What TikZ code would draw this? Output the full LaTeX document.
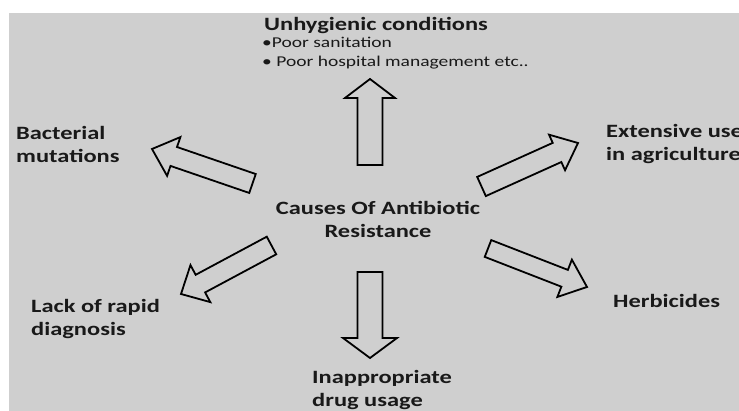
\documentclass[tikz,border=0pt]{standalone}
\usepackage{fontspec}
\setmainfont{Carlito}[FakeStretch=1.3]
\usetikzlibrary{calc}
\definecolor{bggray}{RGB}{207,207,207}
\tikzset{
  blockarrow/.style={draw=black, line width=1.8pt, line join=miter, fill=none},
  bigtext/.style={font=\bfseries\fontsize{18.8}{23}\selectfont, inner sep=0pt, align=left, text=black!90},
  smalltext/.style={font=\fontsize{15}{19}\selectfont, inner sep=0pt, align=left, text=black!90}
}
% #1 tail, #2 tip, #3 shaft half width, #4 head half width, #5 head length, #6 name
\newcommand{\blockarr}[6]{%
  \coordinate (#6T) at #1;
  \coordinate (#6P) at #2;
  \coordinate (#6B) at ($(#6P)!#5pt!(#6T)$);
  \draw[blockarrow] ($(#6T)!#3pt!90:(#6P)$) -- ($(#6B)!#3pt!-90:(#6T)$) -- ($(#6B)!#4pt!-90:(#6T)$)
     -- (#6P) -- ($(#6B)!#4pt!90:(#6T)$) -- ($(#6B)!#3pt!90:(#6T)$) -- ($(#6T)!#3pt!-90:(#6P)$) -- cycle;
}
\begin{document}
\begin{tikzpicture}[x=1pt,y=-1pt]
\useasboundingbox (0,0) rectangle (739,411);
\fill[white] (0,0) rectangle (739,411);
\fill[bggray] (9,13) rectangle (739,411);
\begin{scope}
\clip (9,13) rectangle (739,411);
% labels
\node[bigtext, anchor=west] (unhyg) at (264,25.5) {Unhygienic conditions};
\node[smalltext, anchor=west] (bullets) at (262,53.5) {•Poor sanitation\\• Poor hospital management etc..};
\node[bigtext, anchor=west] (bact) at (16,144) {Bacterial\\mutations};
\node[bigtext, anchor=west] (ext) at (606,144) {Extensive use\\in agriculture};
\node[bigtext, align=center] (center) at (378,219.5) {Causes Of Antibiotic\\Resistance};
\node[bigtext, anchor=west] (lack) at (31,319) {Lack of rapid\\diagnosis};
\node[bigtext, anchor=west] (herb) at (613,301) {Herbicides};
\node[bigtext, anchor=west] (inap) at (312,389.5) {Inappropriate\\drug usage};
% arrows
\blockarr{(370,165)}{(370,79)}{12.5}{25}{19}{up}
\blockarr{(370,272)}{(370,358)}{12.5}{27}{20}{down}
\blockarr{(252.5,183.5)}{(152,149)}{10}{20.5}{23}{bac}
\blockarr{(481.5,186.5)}{(578,143)}{10.5}{19.5}{23}{ex}
\blockarr{(271.5,245.5)}{(181,294)}{10}{21}{22}{la}
\blockarr{(488,248.5)}{(587,287)}{9}{20}{24}{he}
\end{scope}
\end{tikzpicture}
\end{document}
